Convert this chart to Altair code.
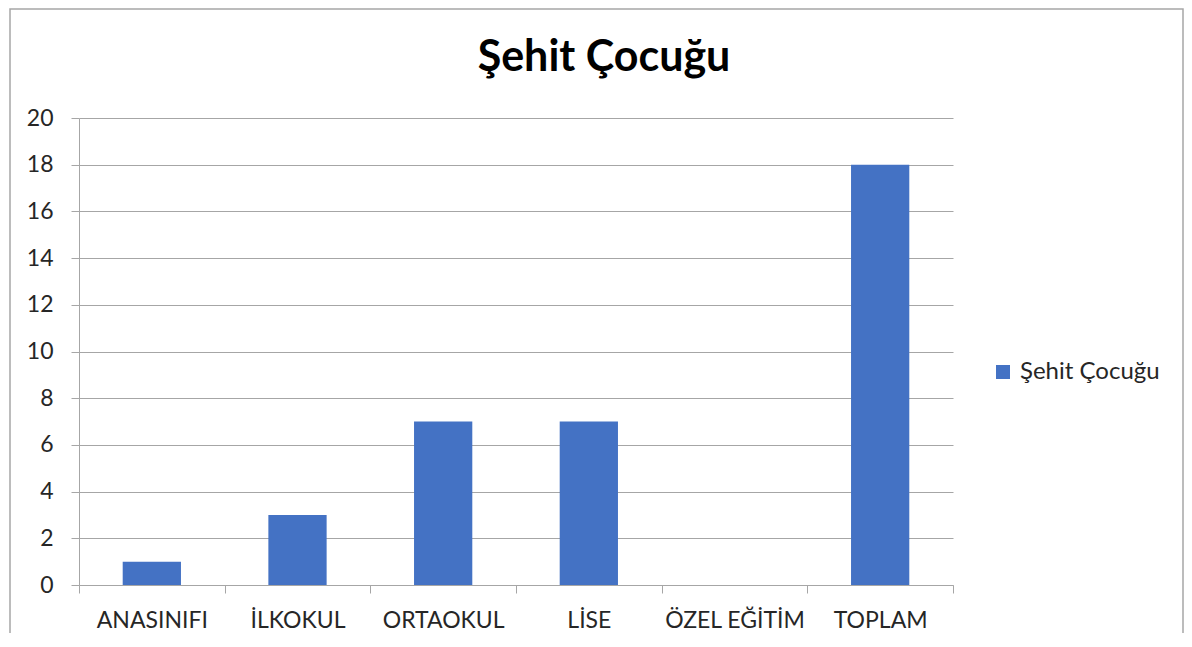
import altair as alt
import pandas as pd

categories = ["ANASINIFI", "İLKOKUL", "ORTAOKUL", "LİSE", "ÖZEL EĞİTİM", "TOPLAM"]
values = [1, 3, 7, 7, 0, 18]
series_name = "Şehit Çocuğu"
y_ticks = [0, 2, 4, 6, 8, 10, 12, 14, 16, 18, 20]

df = pd.DataFrame({"Kategori": categories, "Değer": values, "Seri": [series_name] * len(categories)})

FONT = "Lato"
W, H = 874, 467

bars = alt.Chart(df).mark_bar(width=alt.RelativeBandSize(0.4), color="#4472c4").encode(
    x=alt.X(
        "Kategori:N",
        sort=categories,
        scale=alt.Scale(paddingInner=0, paddingOuter=0),
        axis=alt.Axis(
            title=None,
            labelAngle=0,
            labelFont=FONT,
            labelFontSize=23,
            labelColor="#262626",
            labelPadding=16,
            tickBand="extent",
            tickSize=8,
            tickColor="#a6a6a6",
            domainColor="#a6a6a6",
            grid=False,
        ),
    ),
    y=alt.Y(
        "Değer:Q",
        scale=alt.Scale(domain=[0, 20]),
        axis=alt.Axis(
            title=None,
            values=y_ticks,
            labelFont=FONT,
            labelFontSize=23,
            labelColor="#262626",
            labelPadding=18,
            tickSize=8,
            tickColor="#a6a6a6",
            domainColor="#a6a6a6",
            gridColor="#a6a6a6",
        ),
    ),
    fill=alt.Fill(
        "Seri:N",
        scale=alt.Scale(range=["#4472c4"]),
        legend=alt.Legend(
            title=None,
            orient="none",
            legendX=912,
            legendY=242,
            symbolType="square",
            symbolSize=196,
            symbolStrokeWidth=0,
            labelFont=FONT,
            labelFontSize=24,
            labelColor="#262626",
            labelOffset=5,
            padding=0,
        ),
    ),
)

title = alt.Chart(pd.DataFrame({"t": [series_name]})).mark_text(
    font=FONT, fontSize=43, fontWeight="bold", color="#000000",
    align="center", baseline="alphabetic"
).encode(text="t:N", x=alt.value(525), y=alt.value(-47))

border = alt.Chart(pd.DataFrame({"a": [0]})).mark_rect(
    fill=None, stroke="#a6a6a6", strokeWidth=1.5
).encode(
    x=alt.value(-69), x2=alt.value(1104), y=alt.value(-109), y2=alt.value(560)
)

chart = alt.layer(border, bars, title).properties(
    width=W,
    height=H,
    autosize=alt.AutoSizeParams(type="none"),
    padding={"left": 71, "top": 110, "right": 231, "bottom": 48},
).configure_view(stroke=None)

chart.save("out.html", embed_options={"renderer": "svg", "actions": False})
